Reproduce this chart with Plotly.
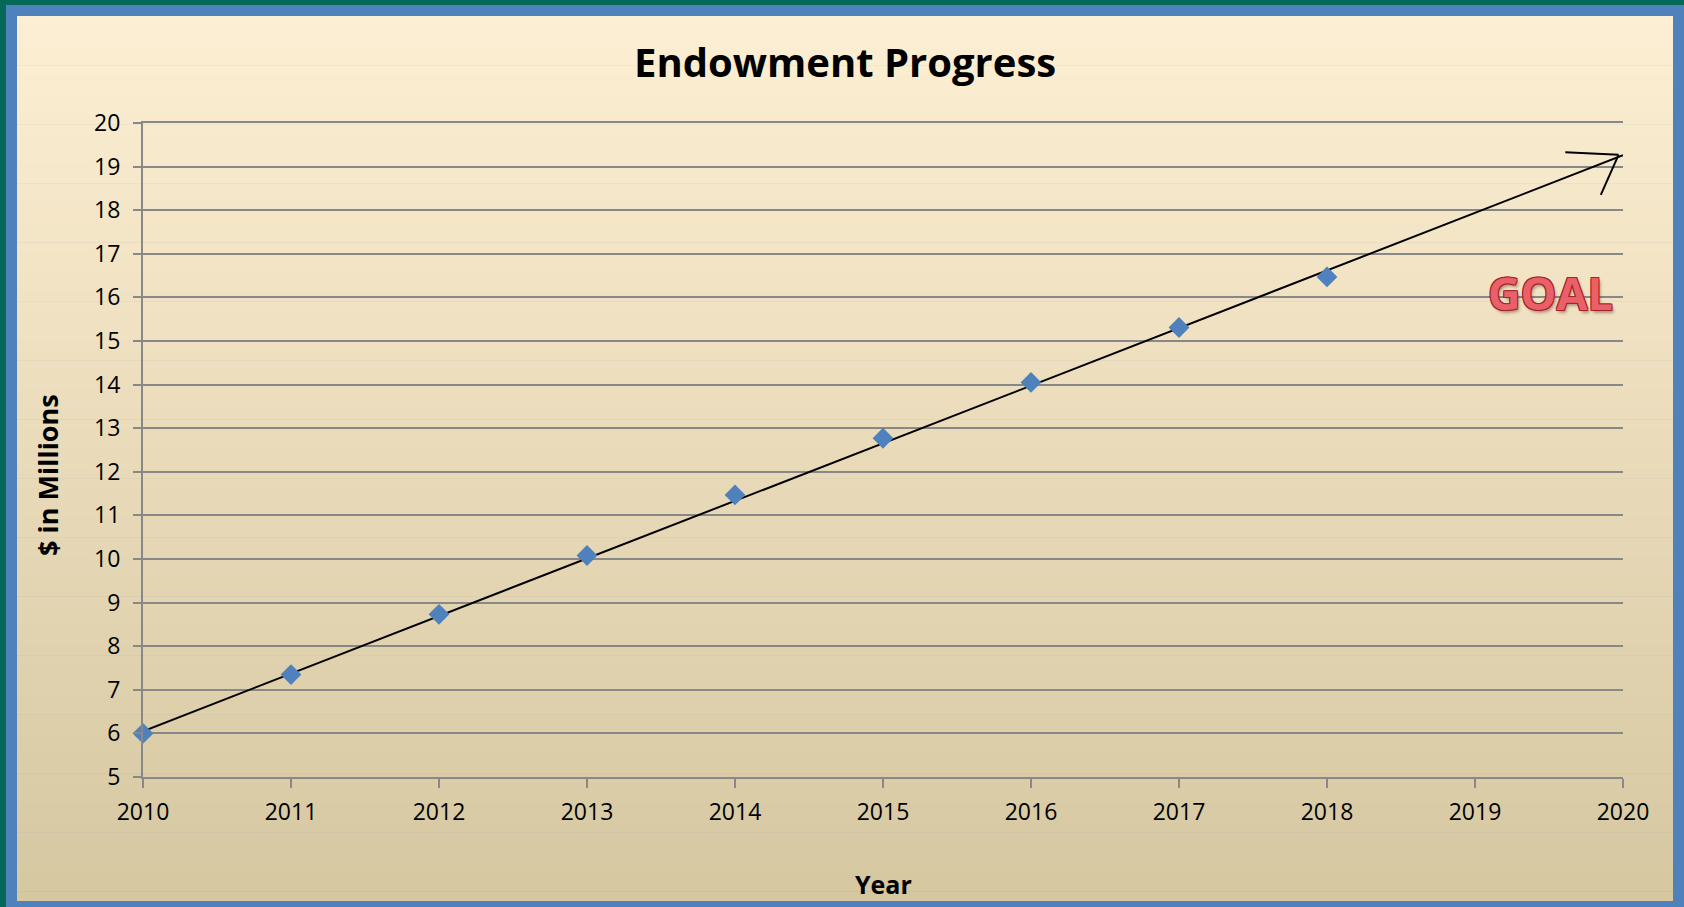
import plotly.graph_objects as go

# ---- data ----
years = [2010, 2011, 2012, 2013, 2014, 2015, 2016, 2017, 2018]
endowment = [6.0, 7.35, 8.73, 10.08, 11.47, 12.77, 14.05, 15.31, 16.47]
trend_x = [2010, 2020]
trend_y = [6.05, 19.26]
arrow_top_x = [2019.61, 2019.97]
arrow_top_y = [19.33, 19.27]
arrow_low_x = [2019.85, 2019.97]
arrow_low_y = [18.35, 19.27]
x_ticks = list(range(2010, 2021))
y_ticks = list(range(5, 21))

W, H = 1684, 907
L, R, T, B = 143, 61, 123, 130
PW, PH = W - L - R, H - T - B


def px(x):
    return (x - L) / PW


def py(y):
    return 1 - (y - T) / PH


FONT = "Open Sans"
GRID = "#888888"

fig = go.Figure()

fig.add_trace(go.Scatter(
    x=trend_x, y=trend_y, mode="lines",
    line=dict(color="black", width=2), hoverinfo="skip", showlegend=False,
))
fig.add_trace(go.Scatter(
    x=years, y=endowment, mode="markers",
    marker=dict(symbol="diamond", size=16, color="#4f81bd"),
    cliponaxis=False, showlegend=False,
))

shapes = []
# outer frame
shapes.append(dict(type="rect", xref="paper", yref="paper",
                   x0=px(6), x1=px(W + 2), y0=py(5), y1=py(H + 2),
                   fillcolor="#4f81bd", line=dict(width=0), layer="below"))
# gradient inner panel
top_c = (253, 239, 211)
bot_c = (213, 199, 160)
y_top, y_bot = 16, 901
n = 90
for i in range(n):
    a = y_top + (y_bot - y_top) * i / n
    b = y_top + (y_bot - y_top) * (i + 1) / n + 0.6
    f = (i + 0.5) / n
    c = tuple(int(round(top_c[k] + (bot_c[k] - top_c[k]) * f)) for k in range(3))
    shapes.append(dict(type="rect", xref="paper", yref="paper",
                       x0=px(17), x1=px(1673), y0=py(a), y1=py(min(b, y_bot)),
                       fillcolor="rgb(%d,%d,%d)" % c, line=dict(width=0), layer="below"))
# arrow head strokes
shapes.append(dict(type="line", xref="x", yref="y",
                   x0=arrow_top_x[0], y0=arrow_top_y[0], x1=arrow_top_x[1], y1=arrow_top_y[1],
                   line=dict(color="black", width=2)))
shapes.append(dict(type="line", xref="x", yref="y",
                   x0=arrow_low_x[0], y0=arrow_low_y[0], x1=arrow_low_x[1], y1=arrow_low_y[1],
                   line=dict(color="black", width=2)))

outline = "#a3222b"
goal_shadow = ", ".join([
    "-1px -1px 0 " + outline, "1px -1px 0 " + outline,
    "-1px 1px 0 " + outline, "1px 1px 0 " + outline,
    "2px 3px 3px rgba(60,0,0,0.35)",
])

annotations = [
    dict(text="<b>Endowment Progress</b>", xref="paper", yref="paper",
         x=px(845), y=py(62), xanchor="center", yanchor="middle", showarrow=False,
         font=dict(family=FONT, size=40, color="black")),
    dict(text="<b>$ in Millions</b>", xref="paper", yref="paper",
         x=px(48), y=py(475), xanchor="center", yanchor="middle", showarrow=False,
         textangle=-90, font=dict(family=FONT, size=27, color="black")),
    dict(text="<b>Year</b>", xref="paper", yref="paper",
         x=px(883), y=py(884), xanchor="center", yanchor="middle", showarrow=False,
         font=dict(family=FONT, size=25, color="black")),
    dict(text="<b>GOAL</b>", xref="paper", yref="paper",
         x=px(1550), y=py(292), xanchor="center", yanchor="middle", showarrow=False,
         font=dict(family=FONT, size=45, color="#ea6068", shadow=goal_shadow)),
]

fig.update_layout(
    width=W, height=H,
    margin=dict(l=L, r=R, t=T, b=B, pad=0),
    paper_bgcolor="#05695a",
    plot_bgcolor="rgba(0,0,0,0)",
    shapes=shapes,
    annotations=annotations,
    font=dict(family=FONT, size=23, color="black"),
    xaxis=dict(range=[2010, 2020], tickvals=x_ticks, ticktext=[str(v) for v in x_ticks],
               showgrid=False, zeroline=False, showline=True, linecolor=GRID, linewidth=2,
               mirror=True,
               ticks="outside", ticklen=9, tickwidth=2, tickcolor=GRID,
               ticklabelstandoff=4,
               tickfont=dict(family=FONT, size=23, color="black"), fixedrange=True),
    yaxis=dict(range=[5, 20], tickvals=y_ticks, ticktext=[str(v) for v in y_ticks],
               showgrid=True, gridcolor=GRID, gridwidth=2, zeroline=False,
               showline=True, linecolor=GRID, linewidth=2,
               ticks="outside", ticklen=8, tickwidth=2, tickcolor=GRID,
               ticklabelstandoff=8,
               tickfont=dict(family=FONT, size=23, color="black"), fixedrange=True),
    showlegend=False,
)

fig.write_html("out.html", config={"displayModeBar": False})
